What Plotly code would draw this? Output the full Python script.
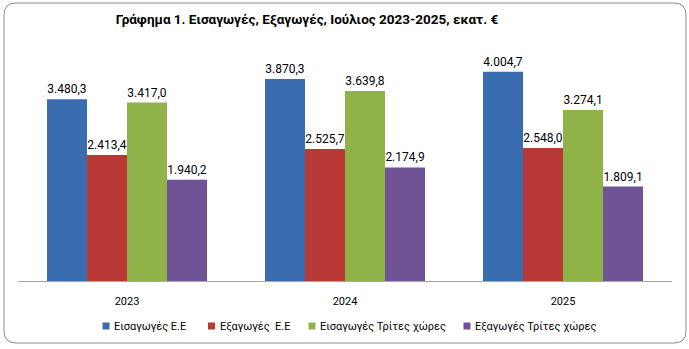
import plotly.graph_objects as go

years = ["2023", "2024", "2025"]
series_names = ["Εισαγωγές Ε.Ε", "Εξαγωγές  Ε.Ε", "Εισαγωγές Τρίτες χώρες", "Εξαγωγές Τρίτες χώρες"]
imports_eu = [3480.3, 3870.3, 4004.7]
exports_eu = [2413.4, 2525.7, 2548.0]
imports_third = [3417.0, 3639.8, 3274.1]
exports_third = [1940.2, 2174.9, 1809.1]
colors = ["#3A6DB0", "#B83936", "#8FB249", "#6F5396"]

W, H = 689, 349
ml, mr, mt, mb = 18, 17, 46, 68
pw, ph = W - ml - mr, H - mt - mb

fig = go.Figure()
for name, vals, c in zip(series_names, [imports_eu, exports_eu, imports_third, exports_third], colors):
    fig.add_trace(go.Bar(
        x=years, y=vals, name=name,
        marker=dict(color=c, line=dict(width=0)),
        texttemplate="%{y:,.1f}", textposition="outside",
        textfont=dict(family="Roboto", size=12, color="#000000"),
        cliponaxis=False, showlegend=False,
    ))

def px2x(px):
    return (px - ml) / pw

def py2y(py):
    return (H - mb - py) / ph

# rounded border
x0, x1, y0, y1, r = 4, 686, 3, 343, 12
path = (f"M {px2x(x0+r)},{py2y(y0)} L {px2x(x1-r)},{py2y(y0)} "
        f"Q {px2x(x1)},{py2y(y0)} {px2x(x1)},{py2y(y0+r)} "
        f"L {px2x(x1)},{py2y(y1-r)} Q {px2x(x1)},{py2y(y1)} {px2x(x1-r)},{py2y(y1)} "
        f"L {px2x(x0+r)},{py2y(y1)} Q {px2x(x0)},{py2y(y1)} {px2x(x0)},{py2y(y1-r)} "
        f"L {px2x(x0)},{py2y(y0+r)} Q {px2x(x0)},{py2y(y0)} {px2x(x0+r)},{py2y(y0)} Z")

shapes = [dict(type="path", path=path, xref="paper", yref="paper",
               line=dict(color="#8C8C8C", width=1), fillcolor="rgba(0,0,0,0)", layer="below")]
annotations = []

# legend (squares + labels)
leg_x = [102.5, 208, 308.5, 463.5]
leg_y = 326
sq = 7
for lx, name, c in zip(leg_x, series_names, colors):
    shapes.append(dict(type="rect", xref="paper", yref="paper",
                       x0=px2x(lx), x1=px2x(lx + sq), y0=py2y(leg_y + sq / 2), y1=py2y(leg_y - sq / 2),
                       fillcolor=c, line=dict(width=0)))
    annotations.append(dict(text=name.replace("  ", "&nbsp; "), xref="paper", yref="paper",
                            x=px2x(lx + sq + 2.5), y=py2y(leg_y), xanchor="left", yanchor="middle",
                            showarrow=False, font=dict(family="Roboto", size=11, color="#000000")))

fig.update_layout(
    width=W, height=H,
    margin=dict(l=ml, r=mr, t=mt, b=mb),
    paper_bgcolor="white", plot_bgcolor="white",
    separators=",.",
    barmode="group", bargap=0.266, bargroupgap=0,
    title=dict(text="<b>Γράφημα 1. Εισαγωγές, Εξαγωγές, Ιούλιος 2023-2025, εκατ. €</b>",
               x=307 / W, xanchor="center", y=1 - 19 / H, yanchor="middle",
               font=dict(family="Roboto", size=13.5, color="#000000")),
    xaxis=dict(showline=True, linecolor="#A6A6A6", linewidth=1, ticks="",
               ticklabelstandoff=10,
               tickfont=dict(family="Roboto", size=11, color="#000000"),
               showgrid=False, zeroline=False),
    yaxis=dict(range=[0, 4500], visible=False, showgrid=False, zeroline=False),
    shapes=shapes,
    annotations=annotations,
    showlegend=False,
)

fig.write_html("out.html")
